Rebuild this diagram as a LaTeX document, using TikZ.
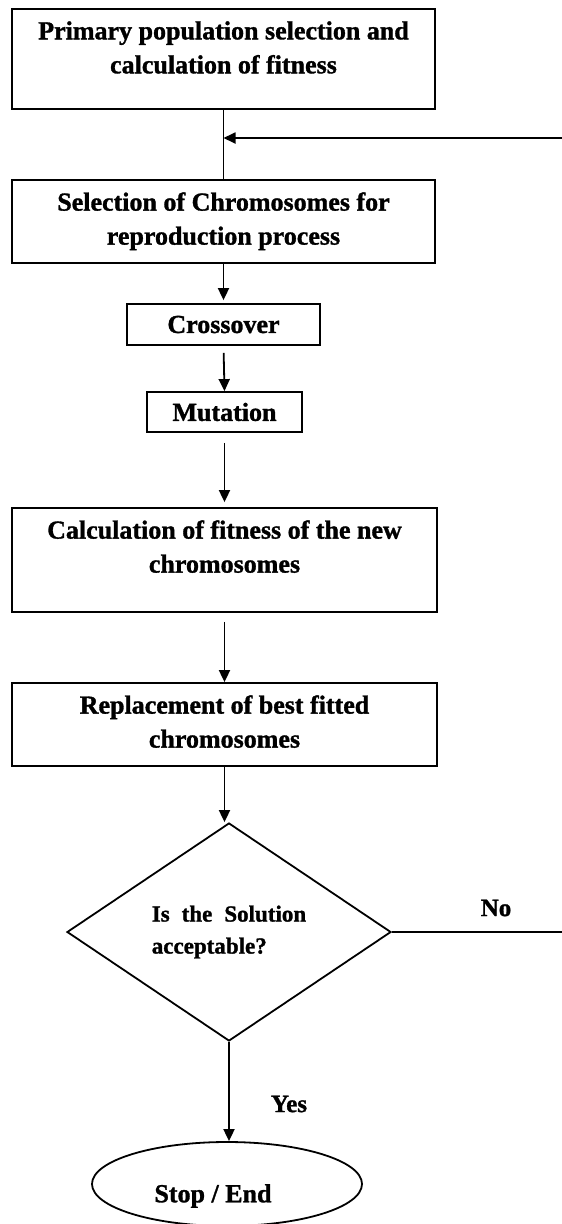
\documentclass[tikz,border=0pt]{standalone}
\usepackage{fontspec}
\setmainfont{Liberation Serif}[BoldFeatures={FakeBold=1.2}]
\usetikzlibrary{arrows.meta,positioning,shapes.geometric}

\begin{document}
\begin{tikzpicture}[x=1pt,y=-1pt]
\tikzset{
  procbox/.style={rectangle,draw=black,line width=1.8pt,inner sep=0pt},
  boxtext/.style={anchor=north,align=center,inner sep=0pt,yshift=-13pt,font=\fontsize{26}{34}\selectfont\bfseries},
  smallbox/.style={procbox,font=\fontsize{26}{34}\selectfont\bfseries},
  decision/.style={diamond,draw=black,line width=1.8pt,inner sep=0pt,align=left,font=\fontsize{23}{32}\selectfont\bfseries},
  terminal/.style={ellipse,draw=black,line width=1.8pt,inner sep=0pt},
  termtext/.style={inner sep=0pt,font=\fontsize{26}{34}\selectfont\bfseries},
  flowline/.style={draw=black,line width=1.8pt},
  flowarrow/.style={flowline,-{Triangle[length=12pt,width=11pt]}},
  edgelabel/.style={inner sep=0pt,font=\fontsize{25}{30}\selectfont\bfseries}
}
\useasboundingbox (0,0) rectangle (562,1224);
\node[procbox,minimum width=423pt,minimum height=100pt,
  label={[boxtext]north:{Primary population selection and\\calculation of fitness}}] (n_pop) at (223.5,59) {};
\node[procbox,minimum width=423pt,minimum height=83pt,
  label={[boxtext]north:{Selection of Chromosomes for\\reproduction process}}] (n_sel) at (223.5,221.5) {};
\node[smallbox,minimum width=193pt,minimum height=41pt] (n_cross) at (223.5,324.5) {Crossover};
\node[smallbox,minimum width=155pt,minimum height=40pt] (n_mut) at (224.5,412) {Mutation};
\node[procbox,minimum width=425pt,minimum height=104pt,
  label={[boxtext]north:{Calculation of fitness of the new\\chromosomes}}] (n_calc) at (224.5,560) {};
\node[procbox,minimum width=425pt,minimum height=83pt,
  label={[boxtext]north:{Replacement of best fitted\\chromosomes}}] (n_repl) at (224.5,724.5) {};
\node[decision,minimum width=324pt,minimum height=218pt] (n_accept) at (229,932)
  {Is\hspace{12pt}the\hspace{12pt}Solution\\acceptable?};
\node[terminal,minimum width=270pt,minimum height=84pt,
  label={[termtext,xshift=-14pt,yshift=-12pt]center:Stop / End}] (n_stop) at (227,1184) {};
\node[edgelabel] (n_no) at (496,908) {No};
\node[edgelabel] (n_yes) at (289,1104) {Yes};
\coordinate (n_loopin) at (562,138);
\coordinate (n_noout) at (562,932);
\draw[flowline] (n_pop.south) -- (n_sel.north);
\draw[flowarrow] (n_loopin) -- (n_loopin -| n_pop.south);
\draw[flowarrow,shorten >=3pt] (n_sel.south) -- (n_cross.north);
\draw[flowarrow,shorten <=7pt] (n_cross.south) -- (n_mut.north);
\draw[flowarrow,shorten <=10pt,shorten >=5pt] (n_mut.south) -- (n_calc.north);
\draw[flowarrow,shorten <=9pt] (n_calc.south) -- (n_repl.north);
\draw[flowarrow] (n_repl.south) -- (n_repl.south |- n_accept.north);
\draw[flowline] (n_accept.east) -- (n_accept.east -| n_noout);
\draw[flowarrow] (n_accept.south) -- (n_accept.south |- n_stop.north);
\end{tikzpicture}
\end{document}
